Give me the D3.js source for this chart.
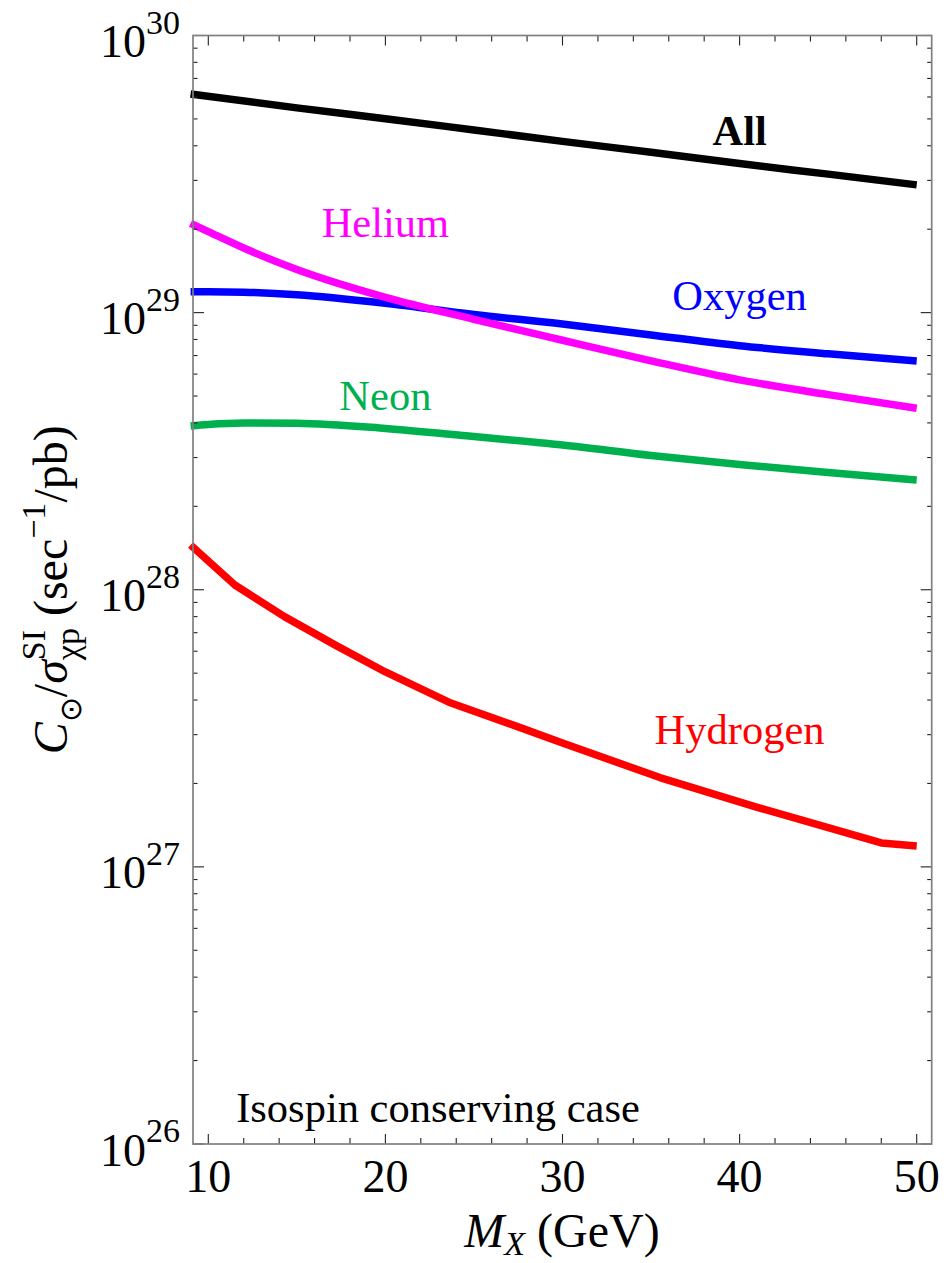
<!DOCTYPE html>
<html>
<head>
<meta charset="utf-8">
<script src="https://cdn.jsdelivr.net/npm/d3@7/dist/d3.min.js"></script>
<style>
  html, body { margin: 0; padding: 0; background: #fff; }
  svg { display: block; }
  text { font-family: "Liberation Serif", "Times New Roman", serif; }
</style>
</head>
<body>
<svg id="chart" width="947" height="1263"></svg>
<script>
// Dark-matter capture rate per unit SI cross-section in the Sun, by target element
const massSmooth = [9, 10, 12, 15, 20, 25, 30, 35, 40, 45, 50];
const helium = [2.10e29, 1.96e29, 1.71e29, 1.43e29, 1.135e29, 9.46e28, 7.95e28, 6.70e28, 5.72e28, 5.06e28, 4.52e28];
const oxygen = [1.19e29, 1.19e29, 1.185e29, 1.16e29, 1.08e29, 9.84e28, 9.1e28, 8.3e28, 7.6e28, 7.1e28, 6.69e28];
const neon   = [3.90e28, 3.95e28, 4.00e28, 3.99e28, 3.82e28, 3.57e28, 3.33e28, 3.05e28, 2.83e28, 2.65e28, 2.49e28];

const massAll = [9, 15, 20, 25, 30, 35, 40, 45, 50];
const allElements = [6.15e29, 5.48e29, 5.01e29, 4.56e29, 4.15e29, 3.79e29, 3.45e29, 3.16e29, 2.89e29];

const massH = [9, 11.5, 14.3, 17.2, 20, 23.7, 27.5, 30, 35.5, 41, 48, 50];
const hydrogen = [1.45e28, 1.04e28, 8.0e27, 6.3e27, 5.05e27, 3.9e27, 3.2e27, 2.8e27, 2.1e27, 1.64e27, 1.22e27, 1.19e27];

const xTickValues = [10, 20, 30, 40, 50];
const yTickExponents = [26, 27, 28, 29, 30];

const seriesDefs = [
  { name: "Neon",     xs: massSmooth, ys: neon,        color: "#00b04f", curve: d3.curveMonotoneX, labelAt: [20, 4.45e28], bold: false },
  { name: "Hydrogen", xs: massH,      ys: hydrogen,    color: "#ff0000", curve: d3.curveLinear,     labelAt: [40, 2.77e27], bold: false },
  { name: "Oxygen",   xs: massSmooth, ys: oxygen,      color: "#0000ff", curve: d3.curveMonotoneX, labelAt: [40, 1.02e29], bold: false },
  { name: "Helium",   xs: massSmooth, ys: helium,      color: "#ff00ff", curve: d3.curveMonotoneX, labelAt: [20, 1.88e29], bold: false },
  { name: "All",      xs: massAll,    ys: allElements, color: "#000000", curve: d3.curveMonotoneX, labelAt: [40, 4.03e29], bold: true }
];

const svg = d3.select("#chart");
const frameL = 193, frameR = 931.7, frameT = 35.5, frameB = 1144;

const x = d3.scaleLinear().domain([9.136, 50.847]).range([frameL, frameR]);
const y = d3.scaleLog().domain([1e26, 1e30]).range([frameB, frameT]);

// curves and their labels
const plot = svg.append("g");
seriesDefs.forEach(s => {
  const pts = s.xs.map((m, i) => [m, s.ys[i]]);
  const line = d3.line().x(d => x(d[0])).y(d => y(d[1])).curve(s.curve);
  plot.append("path")
    .attr("d", line(pts))
    .attr("fill", "none")
    .attr("stroke", s.color)
    .attr("stroke-width", 7.5)
    .attr("stroke-linejoin", "round")
    .attr("stroke-linecap", "butt");
  plot.append("text")
    .attr("x", x(s.labelAt[0]))
    .attr("y", y(s.labelAt[1]))
    .attr("text-anchor", "middle")
    .attr("font-size", 42.5)
    .attr("font-weight", s.bold ? "bold" : "normal")
    .attr("fill", s.color)
    .text(s.name);
});

plot.append("text")
  .attr("x", x(22.97))
  .attr("y", y(1.2e26))
  .attr("text-anchor", "middle")
  .attr("font-size", 42.5)
  .attr("fill", "#000")
  .text("Isospin conserving case");

// frame ticks on all four sides
const ticks = svg.append("g").attr("stroke", "#222").attr("stroke-width", 1.1);
const xMinor = d3.range(10, 51, 2);
xMinor.forEach(v => {
  const major = v % 10 === 0;
  const len = major ? 10 : 6;
  ticks.append("line").attr("x1", x(v)).attr("x2", x(v)).attr("y1", frameB).attr("y2", frameB - len);
  ticks.append("line").attr("x1", x(v)).attr("x2", x(v)).attr("y1", frameT).attr("y2", frameT + len);
});
yTickExponents.forEach(e => {
  for (let k = 1; k <= 9; k++) {
    const v = k * Math.pow(10, e);
    if (v > 1e30 * 1.0001) continue;
    const len = k === 1 ? 11 : 4.5;
    ticks.append("line").attr("x1", frameL).attr("x2", frameL + len).attr("y1", y(v)).attr("y2", y(v));
    ticks.append("line").attr("x1", frameR).attr("x2", frameR - len).attr("y1", y(v)).attr("y2", y(v));
  }
});

svg.append("rect")
  .attr("x", frameL).attr("y", frameT)
  .attr("width", frameR - frameL).attr("height", frameB - frameT)
  .attr("fill", "none").attr("stroke", "#808080").attr("stroke-width", 1.7);

// x tick labels
xTickValues.forEach(v => {
  svg.append("text")
    .attr("x", x(v)).attr("y", 1191.5)
    .attr("text-anchor", "middle")
    .attr("font-size", 46)
    .text(v);
});

// lay out a run of text pieces on one baseline; returns group and width
function richText(parent, pieces) {
  const g = parent.append("g");
  let cx = 0, prevStart = 0, prevW = 0;
  pieces.forEach(p => {
    const t = g.append("text")
      .attr("font-size", p.size)
      .attr("font-style", p.italic ? "italic" : "normal")
      .attr("y", p.dy || 0)
      .text(p.t);
    const w = t.node().getComputedTextLength();
    if (p.stack) {
      t.attr("x", prevStart);
      cx = prevStart + Math.max(prevW, w);
    } else {
      t.attr("x", cx);
      prevStart = cx; prevW = w;
      cx += w;
    }
  });
  return { g, width: cx };
}

// y tick labels 10^n
yTickExponents.forEach(e => {
  const r = richText(svg, [
    { t: "10", size: 46 },
    { t: String(e), size: 34, dy: -23.5 }
  ]);
  r.g.attr("transform", `translate(${180 - r.width},${y(Math.pow(10, e)) + 21.5})`);
});

// x axis title
const xt = richText(svg, [
  { t: "M", size: 48, italic: true },
  { t: "X", size: 34, italic: true, dy: 8 },
  { t: "\u00a0(GeV)", size: 48 }
]);
xt.g.attr("transform", `translate(${562 - xt.width / 2},1247)`);

// y axis title
const yt = richText(svg, [
  { t: "C", size: 48, italic: true },
  { t: "\u2299", size: 30, dy: 14 },
  { t: "/", size: 48 },
  { t: "\u03c3", size: 48, italic: true },
  { t: "SI", size: 34, dy: -22 },
  { t: "\u03c7p", size: 34, dy: 12, stack: true },
  { t: "\u00a0(sec", size: 48 },
  { t: "\u22121", size: 34, dy: -22 },
  { t: "/pb)", size: 48 }
]);
yt.g.attr("transform", `translate(67,${(frameT + frameB) / 2}) rotate(-90) translate(${-yt.width / 2},0)`);
</script>
</body>
</html>
